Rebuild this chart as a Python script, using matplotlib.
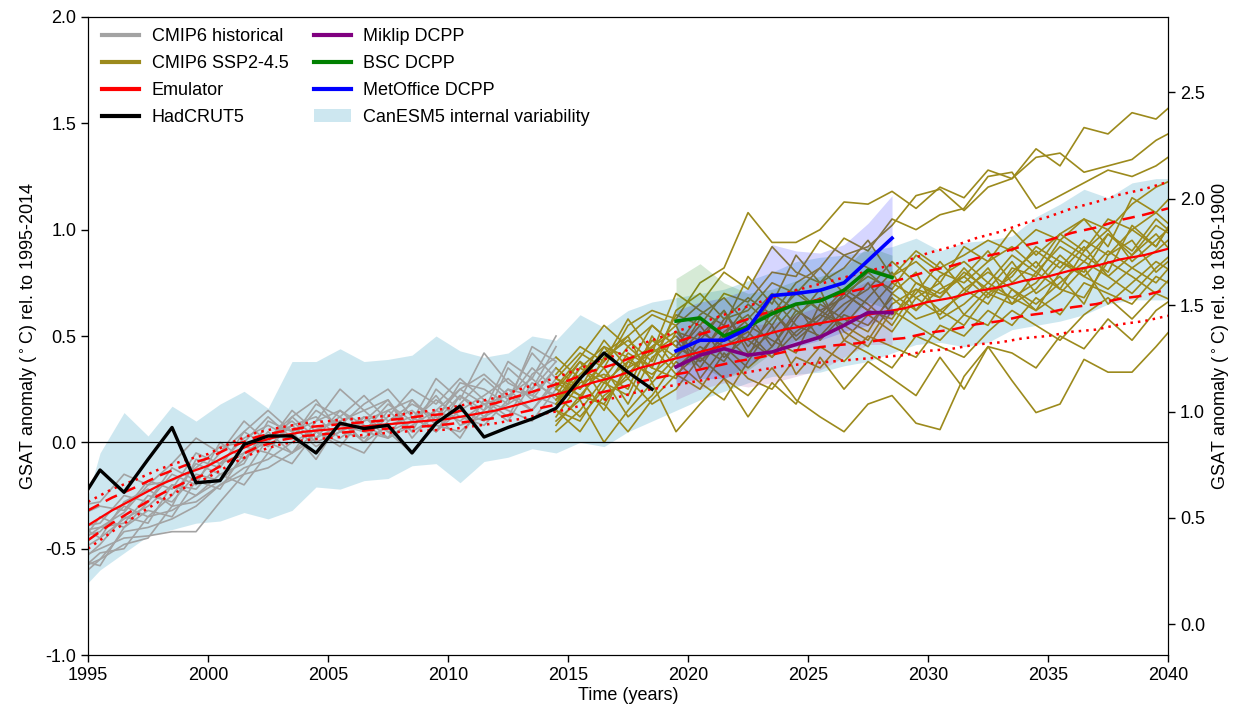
import numpy as np
import matplotlib
matplotlib.use("Agg")
import matplotlib.pyplot as plt
from matplotlib.lines import Line2D
from matplotlib.patches import Patch

plt.rcParams['font.family'] = ['Liberation Sans', 'DejaVu Sans']

# --- Annual data (x at mid-year) ---
hist_years = np.arange(1994.5, 2015.0, 1.0)      # 1994.5 .. 2014.5
ssp_years = np.arange(2014.5, 2041.0, 1.0)       # 2014.5 .. 2040.5
emu_years = np.arange(1995, 2041)                # 1995 .. 2040
had_years = np.arange(1994.5, 2019.0, 1.0)       # 1994.5 .. 2018.5
dcpp_years = np.arange(2019.5, 2029.0, 1.0)      # 2019.5 .. 2028.5
canesm_years = np.arange(1994.5, 2041.0, 1.0)    # 1994.5 .. 2040.5

cmip6_hist = [
    [-0.52, -0.45, -0.36, -0.30, -0.20, -0.22, -0.10, -0.05, 0.02, 0.10, 0.00, 0.05, 0.12, 0.02, 0.08, 0.15, 0.10, 0.18, 0.22, 0.15, 0.30],
    [-0.40, -0.38, -0.25, -0.28, -0.12, -0.18, -0.05, 0.05, -0.02, 0.08, 0.12, 0.02, 0.10, 0.15, 0.05, 0.12, 0.25, 0.18, 0.10, 0.28, 0.22],
    [-0.60, -0.55, -0.42, -0.40, -0.36, -0.30, -0.20, -0.12, -0.08, 0.00, 0.06, 0.10, 0.00, 0.08, 0.12, 0.05, 0.15, 0.22, 0.30, 0.20, 0.35],
    [-0.35, -0.30, -0.32, -0.18, -0.22, -0.05, -0.10, 0.02, 0.08, 0.02, 0.15, 0.08, 0.05, 0.18, 0.10, 0.20, 0.12, 0.08, 0.20, 0.35, 0.25],
    [-0.48, -0.40, -0.38, -0.25, -0.28, -0.15, -0.18, -0.08, 0.05, -0.05, 0.02, 0.15, 0.08, 0.02, 0.20, 0.08, 0.05, 0.15, 0.25, 0.22, 0.18],
    [-0.55, -0.50, -0.45, -0.44, -0.42, -0.42, -0.28, -0.15, -0.12, -0.05, 0.05, -0.02, 0.12, 0.05, -0.05, 0.10, 0.22, 0.12, 0.18, 0.25, 0.38],
    [-0.30, -0.28, -0.15, -0.20, -0.10, 0.02, -0.05, 0.10, 0.00, 0.15, 0.05, 0.12, 0.22, 0.10, 0.15, 0.05, 0.18, 0.30, 0.20, 0.42, 0.30],
    [-0.62, -0.52, -0.50, -0.35, -0.32, -0.25, -0.15, -0.20, -0.05, -0.10, 0.05, 0.00, -0.05, 0.10, 0.18, 0.12, 0.02, 0.20, 0.15, 0.10, 0.25],
    [-0.45, -0.42, -0.30, -0.35, -0.25, -0.10, -0.15, -0.10, 0.10, 0.05, -0.08, 0.10, 0.15, 0.20, 0.05, 0.25, 0.15, 0.10, 0.35, 0.25, 0.45],
    [-0.50, -0.35, -0.40, -0.28, -0.15, -0.20, 0.00, -0.08, 0.02, 0.12, 0.20, 0.05, 0.02, 0.12, 0.25, 0.18, 0.30, 0.20, 0.12, 0.32, 0.40],
    [-0.38, -0.45, -0.28, -0.22, -0.30, -0.08, -0.12, 0.05, 0.15, 0.05, 0.10, 0.25, 0.15, 0.05, 0.10, 0.30, 0.20, 0.42, 0.28, 0.22, 0.35],
    [-0.58, -0.48, -0.35, -0.38, -0.20, -0.25, -0.18, -0.02, -0.05, 0.12, 0.02, 0.08, 0.18, 0.25, 0.12, 0.05, 0.22, 0.15, 0.38, 0.30, 0.20],
    [-0.42, -0.40, -0.33, -0.20, -0.18, -0.12, -0.02, 0.00, 0.12, 0.02, 0.18, 0.12, 0.00, 0.15, 0.20, 0.10, 0.28, 0.25, 0.18, 0.45, 0.38],
    [-0.55, -0.58, -0.40, -0.32, -0.35, -0.18, -0.22, -0.05, 0.00, -0.05, 0.10, 0.15, 0.05, 0.02, 0.10, 0.22, 0.08, 0.12, 0.25, 0.15, 0.28],
    [-0.65, -0.55, -0.48, -0.45, -0.30, -0.28, -0.20, -0.15, 0.02, 0.08, -0.02, 0.05, 0.10, 0.20, 0.02, 0.15, 0.25, 0.32, 0.22, 0.30, 0.50],
]

cmip6_ssp245 = [
    [0.30, 0.42, 0.35, 0.55, 0.62, 0.58, 0.75, 0.82, 1.08, 0.94, 0.94, 1.00, 1.13, 1.12, 1.18, 1.10, 1.20, 1.15, 1.28, 1.24, 1.38, 1.30, 1.48, 1.45, 1.55, 1.52, 1.62],
    [0.25, 0.20, 0.40, 0.48, 0.38, 0.60, 0.55, 0.70, 0.66, 0.80, 0.78, 0.95, 0.88, 0.92, 1.02, 1.16, 1.19, 1.09, 1.20, 1.24, 1.34, 1.36, 1.27, 1.30, 1.33, 1.42, 1.48],
    [0.18, 0.35, 0.28, 0.22, 0.45, 0.52, 0.40, 0.58, 0.62, 0.75, 0.70, 0.82, 0.96, 0.90, 1.05, 1.00, 1.07, 1.10, 1.25, 1.27, 1.10, 1.16, 1.22, 1.28, 1.25, 1.30, 1.38],
    [0.15, 0.05, 0.22, 0.30, 0.18, 0.25, 0.40, 0.30, 0.22, 0.35, 0.20, 0.12, 0.05, 0.18, 0.22, 0.09, 0.06, 0.31, 0.45, 0.29, 0.14, 0.18, 0.39, 0.33, 0.33, 0.45, 0.58],
    [0.10, 0.20, 0.00, 0.15, 0.28, 0.05, 0.18, 0.30, 0.12, 0.28, 0.18, 0.40, 0.25, 0.38, 0.30, 0.22, 0.40, 0.25, 0.45, 0.42, 0.35, 0.50, 0.44, 0.58, 0.48, 0.62, 0.70],
    [0.28, 0.22, 0.35, 0.18, 0.40, 0.48, 0.35, 0.52, 0.60, 0.45, 0.62, 0.55, 0.70, 0.62, 0.58, 0.75, 0.68, 0.82, 0.70, 0.78, 0.92, 0.85, 0.80, 0.98, 0.90, 1.05, 0.95],
    [0.20, 0.30, 0.15, 0.38, 0.32, 0.42, 0.55, 0.40, 0.50, 0.68, 0.55, 0.50, 0.62, 0.75, 0.60, 0.70, 0.85, 0.72, 0.65, 0.82, 0.78, 0.95, 0.88, 0.80, 1.02, 0.92, 1.10],
    [0.35, 0.25, 0.45, 0.40, 0.30, 0.52, 0.48, 0.62, 0.45, 0.58, 0.70, 0.62, 0.55, 0.68, 0.80, 0.62, 0.72, 0.78, 0.90, 0.75, 0.85, 0.72, 0.90, 1.00, 0.85, 0.95, 1.05],
    [0.12, 0.28, 0.32, 0.25, 0.50, 0.35, 0.45, 0.38, 0.55, 0.48, 0.42, 0.65, 0.58, 0.52, 0.70, 0.80, 0.58, 0.65, 0.75, 0.68, 0.62, 0.80, 0.92, 0.78, 0.88, 0.98, 0.85],
    [0.25, 0.38, 0.20, 0.32, 0.45, 0.55, 0.30, 0.45, 0.52, 0.40, 0.58, 0.72, 0.48, 0.60, 0.52, 0.68, 0.75, 0.60, 0.72, 0.85, 0.70, 0.78, 0.65, 0.88, 0.95, 0.80, 0.90],
    [0.05, 0.15, 0.30, 0.12, 0.22, 0.38, 0.28, 0.20, 0.38, 0.55, 0.32, 0.45, 0.38, 0.50, 0.45, 0.40, 0.55, 0.50, 0.62, 0.55, 0.68, 0.60, 0.75, 0.70, 0.65, 0.78, 0.72],
    [0.32, 0.45, 0.38, 0.58, 0.42, 0.70, 0.62, 0.55, 0.78, 0.65, 0.88, 0.75, 0.82, 0.95, 0.78, 0.85, 0.75, 0.92, 0.85, 1.00, 0.88, 0.98, 1.05, 0.92, 1.15, 1.08, 1.20],
    [0.22, 0.12, 0.25, 0.42, 0.35, 0.30, 0.50, 0.62, 0.42, 0.52, 0.65, 0.48, 0.60, 0.55, 0.68, 0.58, 0.62, 0.55, 0.70, 0.65, 0.80, 0.72, 0.68, 0.85, 0.78, 0.70, 0.82],
    [0.40, 0.30, 0.48, 0.35, 0.55, 0.45, 0.38, 0.50, 0.40, 0.62, 0.50, 0.60, 0.72, 0.65, 0.55, 0.72, 0.68, 0.80, 0.72, 0.68, 0.75, 0.88, 0.78, 0.72, 0.82, 0.90, 1.00],
    [0.18, 0.32, 0.42, 0.50, 0.28, 0.40, 0.52, 0.45, 0.35, 0.45, 0.60, 0.68, 0.52, 0.45, 0.62, 0.55, 0.48, 0.60, 0.55, 0.72, 0.62, 0.70, 0.82, 0.65, 0.75, 0.85, 0.78],
    [0.30, 0.25, 0.38, 0.50, 0.60, 0.55, 0.65, 0.80, 0.72, 0.92, 0.80, 0.75, 0.88, 0.82, 0.78, 0.90, 0.82, 0.88, 0.95, 0.90, 1.00, 0.95, 1.05, 1.00, 1.12, 1.20, 1.25],
    [0.08, 0.22, 0.18, 0.05, 0.20, 0.32, 0.25, 0.42, 0.30, 0.25, 0.40, 0.35, 0.48, 0.42, 0.35, 0.50, 0.45, 0.40, 0.52, 0.62, 0.55, 0.48, 0.60, 0.68, 0.58, 0.70, 0.65],
    [0.26, 0.40, 0.55, 0.45, 0.35, 0.62, 0.70, 0.58, 0.68, 0.60, 0.75, 0.82, 0.70, 0.78, 0.72, 0.88, 0.80, 0.75, 0.85, 0.92, 0.82, 0.98, 0.90, 1.05, 1.00, 0.92, 1.10],
    [0.20, 0.35, 0.45, 0.30, 0.48, 0.40, 0.58, 0.50, 0.65, 0.55, 0.72, 0.62, 0.68, 0.80, 0.70, 0.62, 0.78, 0.85, 0.75, 0.88, 0.80, 0.92, 0.85, 0.98, 0.88, 1.02, 0.95],
    [0.15, 0.10, 0.28, 0.38, 0.45, 0.32, 0.42, 0.55, 0.48, 0.40, 0.52, 0.60, 0.55, 0.48, 0.65, 0.72, 0.62, 0.70, 0.82, 0.65, 0.72, 0.85, 0.78, 0.90, 0.82, 0.75, 0.88],
    [0.30, 0.22, 0.18, 0.35, 0.42, 0.50, 0.38, 0.48, 0.58, 0.70, 0.62, 0.55, 0.65, 0.72, 0.85, 0.75, 0.70, 0.78, 0.68, 0.80, 0.90, 0.82, 0.95, 0.88, 1.00, 1.08, 0.98],
    [0.22, 0.38, 0.30, 0.45, 0.55, 0.45, 0.60, 0.68, 0.55, 0.62, 0.48, 0.58, 0.70, 0.62, 0.75, 0.68, 0.60, 0.72, 0.80, 0.72, 0.65, 0.75, 0.85, 0.78, 0.70, 0.82, 0.92],
]

emu_central = [-0.39, -0.32, -0.26, -0.20, -0.15, -0.11, -0.05, 0.00, 0.03, 0.05,
               0.06, 0.07, 0.08, 0.09, 0.10, 0.11, 0.13, 0.15, 0.18, 0.21,
               0.24, 0.28, 0.31, 0.35, 0.38, 0.41, 0.44, 0.47, 0.50, 0.53,
               0.55, 0.57, 0.59, 0.61, 0.63, 0.66, 0.68, 0.71, 0.73, 0.76,
               0.78, 0.81, 0.83, 0.86, 0.88, 0.91]
emu_likely = [0.07, 0.06, 0.05, 0.045, 0.04, 0.035, 0.03, 0.025, 0.02, 0.02,
              0.02, 0.02, 0.02, 0.02, 0.025, 0.025, 0.03, 0.035, 0.04, 0.045,
              0.05, 0.055, 0.06, 0.065, 0.07, 0.08, 0.085, 0.09, 0.10, 0.105,
              0.11, 0.115, 0.125, 0.13, 0.14, 0.145, 0.15, 0.155, 0.16, 0.165,
              0.17, 0.175, 0.18, 0.185, 0.19, 0.19]
emu_very_likely = [0.11, 0.10, 0.085, 0.075, 0.065, 0.055, 0.05, 0.045, 0.04, 0.04,
                   0.04, 0.04, 0.04, 0.04, 0.045, 0.05, 0.055, 0.06, 0.07, 0.075,
                   0.085, 0.09, 0.10, 0.11, 0.12, 0.13, 0.14, 0.15, 0.16, 0.17,
                   0.18, 0.19, 0.20, 0.21, 0.22, 0.23, 0.24, 0.25, 0.26, 0.27,
                   0.28, 0.29, 0.30, 0.305, 0.31, 0.315]

hadcrut5 = [-0.31, -0.13, -0.235, -0.08, 0.07, -0.19, -0.18, -0.01, 0.03, 0.03,
            -0.05, 0.09, 0.065, 0.08, -0.05, 0.09, 0.17, 0.025, 0.07, 0.11,
            0.16, 0.30, 0.42, 0.33, 0.25]

miklip = [0.355, 0.41, 0.44, 0.41, 0.425, 0.46, 0.495, 0.55, 0.61, 0.61]
miklip_lo = [0.20, 0.25, 0.28, 0.26, 0.28, 0.31, 0.34, 0.40, 0.46, 0.46]
miklip_hi = [0.50, 0.55, 0.58, 0.55, 0.56, 0.60, 0.64, 0.70, 0.76, 0.76]
bsc = [0.57, 0.585, 0.50, 0.545, 0.605, 0.65, 0.665, 0.715, 0.81, 0.775]
bsc_lo = [0.37, 0.36, 0.30, 0.34, 0.42, 0.48, 0.50, 0.56, 0.66, 0.62]
bsc_hi = [0.77, 0.84, 0.75, 0.70, 0.72, 0.76, 0.78, 0.82, 0.92, 0.88]
metoffice = [0.43, 0.48, 0.48, 0.535, 0.69, 0.70, 0.715, 0.75, 0.855, 0.96]
metoffice_lo = [0.28, 0.30, 0.30, 0.36, 0.44, 0.45, 0.48, 0.52, 0.55, 0.60]
metoffice_hi = [0.62, 0.66, 0.68, 0.72, 0.93, 0.90, 0.89, 0.93, 1.03, 1.16]

canesm_lo = [-0.72, -0.60, -0.52, -0.44, -0.41, -0.38, -0.37, -0.33, -0.36, -0.32,
             -0.21, -0.22, -0.18, -0.17, -0.11, -0.10, -0.19, -0.09, -0.07, -0.03,
             -0.05, 0.00, -0.02, 0.05, 0.10, 0.15, 0.20, 0.24, 0.28, 0.31,
             0.32, 0.33, 0.36, 0.38, 0.42, 0.46, 0.47, 0.45, 0.47, 0.53,
             0.55, 0.57, 0.60, 0.65, 0.67, 0.67, 0.67]
canesm_hi = [-0.45, -0.05, 0.14, 0.03, 0.17, 0.10, 0.18, 0.24, 0.16, 0.38,
             0.38, 0.44, 0.38, 0.39, 0.41, 0.50, 0.43, 0.40, 0.42, 0.50,
             0.48, 0.60, 0.54, 0.62, 0.66, 0.68, 0.70, 0.72, 0.76, 0.80,
             0.85, 0.87, 0.88, 0.90, 0.92, 0.96, 0.90, 0.94, 0.95, 0.97,
             1.06, 1.12, 1.19, 1.15, 1.22, 1.24, 1.24]

PREIND_OFFSET = 0.855   # 1995-2014 mean relative to 1850-1900

GREY = '#a3a3a3'
GOLD = '#9c8a1c'

fig = plt.figure(figsize=(12.33, 7.07), dpi=100)
ax = fig.add_axes([0.0714, 0.0735, 0.8759, 0.9025])

ax.fill_between(canesm_years, canesm_lo, canesm_hi, color='lightblue', alpha=0.6, lw=0, zorder=1)

for run in cmip6_hist:
    ax.plot(hist_years, run, color=GREY, lw=1.2, zorder=2)
for run in cmip6_ssp245:
    ax.plot(ssp_years, run, color=GOLD, lw=1.2, zorder=2)

# DCPP spreads
ax.fill_between(dcpp_years, bsc_lo, bsc_hi, color='green', alpha=0.16, lw=0, zorder=3)
ax.fill_between(dcpp_years, metoffice_lo, metoffice_hi, color='blue', alpha=0.16, lw=0, zorder=3)
ax.fill_between(dcpp_years, miklip_lo, miklip_hi, color='purple', alpha=0.13, lw=0, zorder=3)

# emulator median, likely and very likely ranges
c = np.array(emu_central)
w1 = np.array(emu_likely)
w2 = np.array(emu_very_likely)
ax.plot(emu_years, c, color='red', lw=1.6, zorder=4)
ax.plot(emu_years, c + w1, color='red', lw=1.8, ls=(0, (5, 3)), zorder=4)
ax.plot(emu_years, c - w1, color='red', lw=1.8, ls=(0, (5, 3)), zorder=4)
ax.plot(emu_years, c + w2, color='red', lw=1.8, ls=(0, (1, 2)), zorder=4)
ax.plot(emu_years, c - w2, color='red', lw=1.8, ls=(0, (1, 2)), zorder=4)

ax.plot(dcpp_years, miklip, color='purple', lw=2.6, zorder=5)
ax.plot(dcpp_years, bsc, color='green', lw=2.6, zorder=5)
ax.plot(dcpp_years, metoffice, color='blue', lw=2.6, zorder=5)
ax.plot(had_years, hadcrut5, color='black', lw=2.4, zorder=6)

ax.axhline(0, color='black', lw=0.9, zorder=4)

ax.set_xlim(1995, 2040)
ax.set_ylim(-1.0, 2.0)
ax.set_xticks(np.arange(1995, 2041, 5))
ax.set_yticks(np.arange(-1.0, 2.01, 0.5))
ax.set_yticklabels([f'{v:.1f}' for v in np.arange(-1.0, 2.01, 0.5)])
ax.tick_params(labelsize=13, length=5, width=1)
ax.set_xlabel('Time (years)', fontsize=13, labelpad=2)
ax.set_ylabel('GSAT anomaly ($^\\circ$C) rel. to 1995-2014', fontsize=13)

ax2 = ax.twinx()
ax2.set_ylim(-1.0 + PREIND_OFFSET, 2.0 + PREIND_OFFSET)
ax2.set_yticks(np.arange(0.0, 2.51, 0.5))
ax2.tick_params(labelsize=13, length=5, width=1)
ax2.set_ylabel('GSAT anomaly ($^\\circ$C) rel. to 1850-1900', fontsize=13)

handles = [
    Line2D([], [], color=GREY, lw=3),
    Line2D([], [], color=GOLD, lw=3),
    Line2D([], [], color='red', lw=3),
    Line2D([], [], color='black', lw=3),
    Line2D([], [], color='purple', lw=3),
    Line2D([], [], color='green', lw=3),
    Line2D([], [], color='blue', lw=3),
    Patch(facecolor='lightblue', alpha=0.6, edgecolor='none'),
]
labels = ['CMIP6 historical', 'CMIP6 SSP2-4.5', 'Emulator', 'HadCRUT5',
          'Miklip DCPP', 'BSC DCPP', 'MetOffice DCPP', 'CanESM5 internal variability']
ax.legend(handles, labels, loc='upper left', ncol=2, frameon=False, fontsize=13,
          handlelength=2.05, handletextpad=0.7, columnspacing=1.4, labelspacing=0.55,
          bbox_to_anchor=(-0.002, 1.008))

fig.savefig('out.png', dpi=100)
